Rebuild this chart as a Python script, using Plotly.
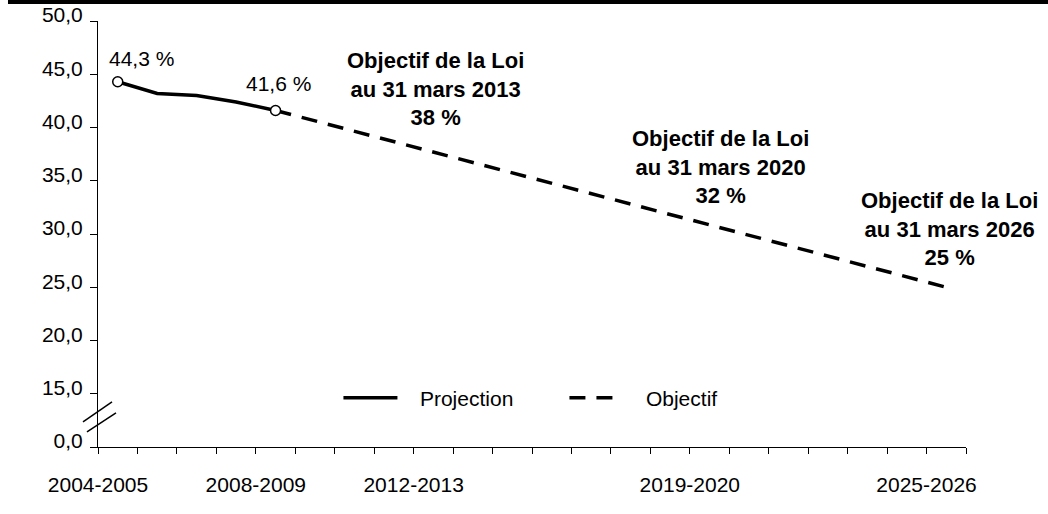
import plotly.graph_objects as go

# categories (school years) on the x axis
years = ["2004-2005", "2005-2006", "2006-2007", "2007-2008", "2008-2009",
         "2009-2010", "2010-2011", "2011-2012", "2012-2013", "2013-2014",
         "2014-2015", "2015-2016", "2016-2017", "2017-2018", "2018-2019",
         "2019-2020", "2020-2021", "2021-2022", "2022-2023", "2023-2024",
         "2024-2025", "2025-2026"]
shown_years = ["2004-2005", "2008-2009", "2012-2013", "2019-2020", "2025-2026"]

proj_years = ["2004-2005", "2005-2006", "2006-2007", "2007-2008", "2008-2009"]
proj_values = [44.3, 43.2, 43.0, 42.4, 41.6]

obj_years = ["2008-2009", "2025-2026"]
obj_values = [41.6, 25.0]

target_years = ["2012-2013", "2019-2020", "2025-2026"]
target_dates = ["31 mars 2013", "31 mars 2020", "31 mars 2026"]
target_values = [38, 32, 25]

# broken y axis: 0,0 is drawn one step below 15,0
y_ticks = [10, 15, 20, 25, 30, 35, 40, 45, 50]
y_ticktext = ["0,0", "15,0", "20,0", "25,0", "30,0", "35,0", "40,0", "45,0", "50,0"]

FONT = "Liberation Sans, Arial, sans-serif"
NB = "\u00a0"
idx = {y: i for i, y in enumerate(years)}

fig = go.Figure()

fig.add_trace(go.Scatter(
    x=[idx[y] for y in proj_years], y=proj_values, mode="lines",
    name=NB * 3 + "Projection", line=dict(color="black", width=3.5),
))
fig.add_trace(go.Scatter(
    x=[idx[y] for y in obj_years], y=obj_values, mode="lines",
    name=NB * 3 + "Objectif", line=dict(color="black", width=3.5, dash="16px,11px"),
))
# open circles on the first and last projection points
fig.add_trace(go.Scatter(
    x=[idx[proj_years[0]], idx[proj_years[-1]]], y=[proj_values[0], proj_values[-1]],
    mode="markers", showlegend=False, hoverinfo="skip",
    marker=dict(size=10, color="white", line=dict(color="black", width=1.5)),
))

annotations = []
# value labels above the projection end points
for (yr, v, dx, dy) in [(proj_years[0], proj_values[0], 24, 23),
                        (proj_years[-1], proj_values[-1], 3, 27)]:
    annotations.append(dict(
        x=idx[yr], y=v, text=f"{v:.1f}".replace(".", ",") + " %", showarrow=False,
        xshift=dx, yshift=dy, font=dict(family=FONT, size=21, color="black")))

# targets of the law
target_pos = [(43.6, 2), (36.3, 11), (30.5, 3)]
for yr, d, v, (ypos, dx) in zip(target_years, target_dates, target_values, target_pos):
    annotations.append(dict(
        x=idx[yr], y=ypos, xshift=dx, showarrow=False, align="center",
        text=f"<b>Objectif de la Loi<br>au {d}<br>{v} %</b>",
        font=dict(family=FONT, size=22, color="black")))

x_tickvals = [i - 0.5 for i in range(len(years) + 1)]
x_ticktext = [years[i] if i < len(years) and years[i] in shown_years else "" for i in range(len(years) + 1)]

shapes = [
    # black bar across the top of the page
    dict(type="rect", xref="paper", yref="paper", x0=-0.1037, x1=1.1, y0=1.0399, y1=1.06,
         fillcolor="black", line=dict(width=0), layer="above"),
]
# axis break marks (paper refs so they are not clipped by the plot area)
break_y = (12.5 - y_ticks[0]) / (y_ticks[-1] - y_ticks[0])
for (x0, y0, x1, y1) in [(-15, -1.5, 14, 18.5), (-11, -11.5, 18, 7.5)]:
    shapes.append(dict(type="line", xref="paper", yref="paper", xsizemode="pixel", ysizemode="pixel",
                       xanchor=0, yanchor=break_y, x0=x0, y0=y0, x1=x1, y1=y1,
                       line=dict(color="black", width=1.5)))

fig.update_layout(
    width=1048, height=514,
    margin=dict(l=98, r=82, t=21, b=67, autoexpand=False),
    paper_bgcolor="white", plot_bgcolor="white",
    font=dict(family=FONT, size=21, color="black"),
    showlegend=True,
    legend=dict(orientation="h", x=0.277, y=0.115, xanchor="left", yanchor="middle",
                font=dict(family=FONT, size=21, color="black"),
                itemwidth=54, entrywidth=157, bgcolor="rgba(0,0,0,0)"),
    annotations=annotations,
    shapes=shapes,
    xaxis=dict(range=[-0.5, len(years) - 0.5], tickmode="array", tickvals=x_tickvals,
               ticktext=x_ticktext, ticks="outside", ticklen=6, tickcolor="black",
               showline=True, linecolor="black", linewidth=1, showgrid=False,
               zeroline=False, ticklabelstandoff=13, tickfont=dict(size=21),
               automargin=False),
    yaxis=dict(range=[10, 50], tickmode="array", tickvals=y_ticks, ticktext=y_ticktext,
               ticks="outside", ticklen=7, tickcolor="black", showline=True,
               linecolor="black", linewidth=1, showgrid=False, zeroline=False,
               ticklabelstandoff=3, ticklabelshift=-6, tickfont=dict(size=21),
               automargin=False),
)

fig.write_html("out.html", config={"displayModeBar": False},
               post_script="document.body.style.margin='0';")
